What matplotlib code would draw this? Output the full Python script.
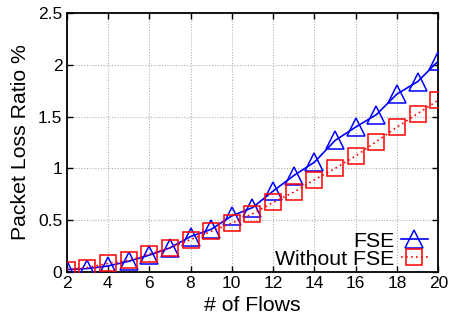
import matplotlib
matplotlib.use("Agg")
import matplotlib.pyplot as plt

flows = list(range(2, 21))
loss_fse = [0.02, 0.03, 0.055, 0.10, 0.16, 0.23, 0.34, 0.41, 0.54, 0.62,
            0.78, 0.93, 1.06, 1.27, 1.40, 1.52, 1.72, 1.84, 2.04]
loss_without = [0.02, 0.04, 0.08, 0.11, 0.17, 0.23, 0.31, 0.39, 0.47, 0.56,
                0.67, 0.77, 0.89, 1.00, 1.12, 1.26, 1.40, 1.53, 1.66]
x_ticks = [2, 4, 6, 8, 10, 12, 14, 16, 18, 20]
y_ticks = [0, 0.5, 1, 1.5, 2, 2.5]
y_tick_labels = ["0", "0.5", "1", "1.5", "2", "2.5"]

plt.rcParams["font.family"] = ["Liberation Sans", "DejaVu Sans"]

fig = plt.figure(figsize=(4.5, 3.2), dpi=100)
ax = fig.add_axes([0.148, 0.151, 0.826, 0.807])

ax.plot(flows, loss_fse, color="#0000ff", lw=1.2, ls="-",
        marker="^", markersize=13, markerfacecolor="none",
        markeredgecolor="#0000ff", markeredgewidth=1.1, label="FSE", zorder=3)
ax.plot(flows, loss_without, color="#ff0000", lw=1.2, ls=(0, (1, 2)),
        marker="s", markersize=11, markerfacecolor="none",
        markeredgecolor="#ff0000", markeredgewidth=1.1, label="Without FSE", zorder=3)

ax.set_xlim(2, 20)
ax.set_ylim(0, 2.5)
ax.set_xticks(x_ticks)
ax.set_yticks(y_ticks)
ax.set_yticklabels(y_tick_labels)
ax.tick_params(direction="in", top=True, right=True, length=4, width=1,
               labelsize=12.5, pad=3)
ax.grid(True, color="#b0b0b0", ls=(0, (1, 1.5)), lw=0.8)
for s in ax.spines.values():
    s.set_linewidth(1.3)

ax.set_xlabel("# of Flows", fontsize=15.3, labelpad=4)
ax.set_ylabel("Packet Loss Ratio %", fontsize=15.3, labelpad=6)

leg = ax.legend(loc="lower right", bbox_to_anchor=(1.013, -0.046),
                frameon=False, markerfirst=False,
                fontsize=15.3, handlelength=1.3, handletextpad=0.3,
                labelspacing=-0.05, borderaxespad=0.3)

fig.savefig("out.png", dpi=100)
